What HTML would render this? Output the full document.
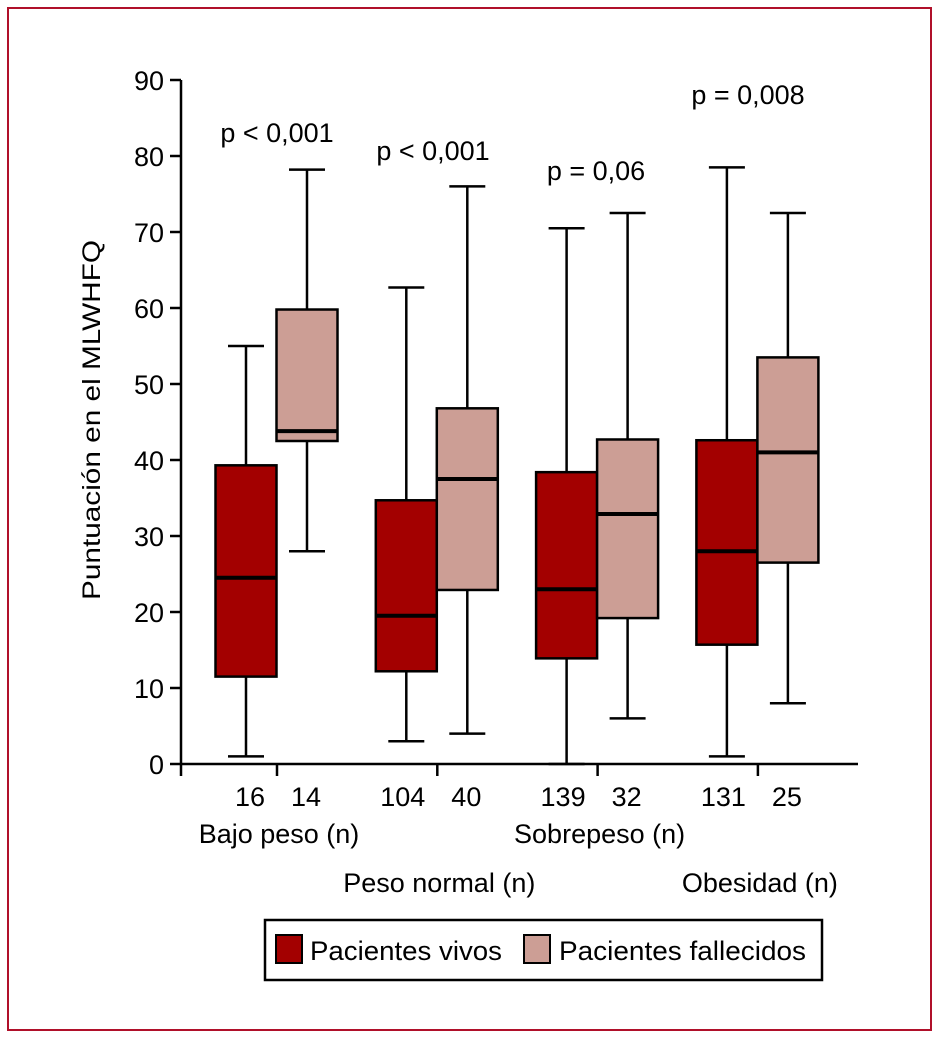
<!DOCTYPE html>
<html><head><meta charset="utf-8"><style>
html,body{margin:0;padding:0;background:#fff;}
svg{display:block;font-family:"Liberation Sans Narrow","Liberation Sans",sans-serif;}
</style></head><body>
<svg id="chart" width="940" height="1039" viewBox="0 0 940 1039" xmlns="http://www.w3.org/2000/svg">
<rect x="8" y="8" width="923" height="1022" fill="#fff" stroke="#b0102a" stroke-width="2"/>
<g id="axes"></g>
<g id="boxes"></g>
<g id="labels"></g>
<g>
<rect x="265" y="920" width="557" height="60" fill="#fff" stroke="#000" stroke-width="2.5"/>
<rect x="276" y="935" width="26" height="28" fill="#a30000" stroke="#000" stroke-width="2"/>
<text x="310" y="960" font-size="27" textLength="192" lengthAdjust="spacingAndGlyphs">Pacientes vivos</text>
<rect x="524" y="935" width="26" height="28" fill="#cc9e95" stroke="#000" stroke-width="2"/>
<text x="559" y="960" font-size="27" textLength="247" lengthAdjust="spacingAndGlyphs">Pacientes fallecidos</text>
</g>
</svg>
<script>
const groups = ["Bajo peso","Peso normal","Sobrepeso","Obesidad"];
const nVivos = ["16","104","139","131"];
const nFall = ["14","40","32","25"];
const pValues = ["p < 0,001","p < 0,001","p = 0,06","p = 0,008"];
const vivosMin = [1,3,0,1];
const vivosQ1 = [11.5,12.2,13.9,15.7];
const vivosMed = [24.5,19.5,23,28];
const vivosQ3 = [39.3,34.7,38.4,42.6];
const vivosMax = [55,62.7,70.5,78.5];
const fallMin = [28,4,6,8];
const fallQ1 = [42.5,22.9,19.2,26.5];
const fallMed = [43.8,37.5,32.9,41];
const fallQ3 = [59.8,46.8,42.7,53.5];
const fallMax = [78.2,76,72.5,72.5];
const yTicks = [0,10,20,30,40,50,60,70,80,90];
const pY = [142,160,180,104];
const pX = [277,433,596,748];

const NS="http://www.w3.org/2000/svg";
const y = v => 764 - v*(684/90);
const groupCenter = i => 277 + i*160.3;
function mk(tag, attrs, parent){const e=document.createElementNS(NS,tag);for(const k in attrs)e.setAttribute(k,attrs[k]);parent.appendChild(e);return e;}
const axes=document.getElementById('axes'), boxes=document.getElementById('boxes'), labels=document.getElementById('labels');

let yl=mk('line',{x1:181,y1:y(90),x2:181,y2:y(0)+12,stroke:'#000','stroke-width':2.5},axes);


let xl=mk('line',{x1:181,y1:y(0),x2:858,y2:y(0),stroke:'#000','stroke-width':2.5},axes);


yTicks.forEach(t=>{
  let tk=mk('line',{x1:170,y1:y(t),x2:181,y2:y(t),stroke:'#000','stroke-width':2.5},axes);
  
  
  let tx=mk('text',{x:164,y:y(t)+10,'font-size':27,'text-anchor':'end'},axes);
  tx.textContent=t;
  
  
});
let yt=mk('text',{x:0,y:0,'font-size':25,'text-anchor':'middle',transform:'translate(100,420) rotate(-90)',textLength:360,lengthAdjust:'spacingAndGlyphs'},axes);
yt.textContent='Puntuación en el MLWHFQ';



function drawBox(cx,mn,q1,md,q3,mx,fill,name){
  const g=mk('g',{},boxes);
  
  
  const w=61;
  mk('line',{x1:cx,y1:y(mx),x2:cx,y2:y(q3),stroke:'#000','stroke-width':2.5},g);
  mk('line',{x1:cx,y1:y(q1),x2:cx,y2:y(mn),stroke:'#000','stroke-width':2.5},g);
  mk('line',{x1:cx-18,y1:y(mx),x2:cx+18,y2:y(mx),stroke:'#000','stroke-width':2.5},g);
  mk('line',{x1:cx-18,y1:y(mn),x2:cx+18,y2:y(mn),stroke:'#000','stroke-width':2.5},g);
  mk('rect',{x:cx-w/2,y:y(q3),width:w,height:y(q1)-y(q3),fill:fill,stroke:'#000','stroke-width':2.5},g);
  mk('line',{x1:cx-w/2,y1:y(md),x2:cx+w/2,y2:y(md),stroke:'#000','stroke-width':4},g);
}
groups.forEach((gname,i)=>{
  const c=groupCenter(i);
  drawBox(c-31,vivosMin[i],vivosQ1[i],vivosMed[i],vivosQ3[i],vivosMax[i],'#a30000','box-vivos-'+i);
  drawBox(c+30,fallMin[i],fallQ1[i],fallMed[i],fallQ3[i],fallMax[i],'#cc9e95','box-fallecidos-'+i);
  let tk=mk('line',{x1:c,y1:y(0),x2:c,y2:y(0)+12,stroke:'#000','stroke-width':2.5},axes);
  
  
  let a=mk('text',{x:c-12,y:806,'font-size':27,'text-anchor':'end'},labels);
  a.textContent=nVivos[i];
  
  
  let b=mk('text',{x:c+14,y:806,'font-size':27,'text-anchor':'start'},labels);
  b.textContent=nFall[i];
  
  
  let p=mk('text',{x:pX[i],y:pY[i],'font-size':27,'text-anchor':'middle'},labels);
  p.textContent=pValues[i];
  
  
  let gl=mk('text',{x:c+2,y:(i%2===0)?843:892,'font-size':27,'text-anchor':'middle'},labels);
  gl.textContent=gname+' (n)';
  
  
});
</script>
</body></html>
